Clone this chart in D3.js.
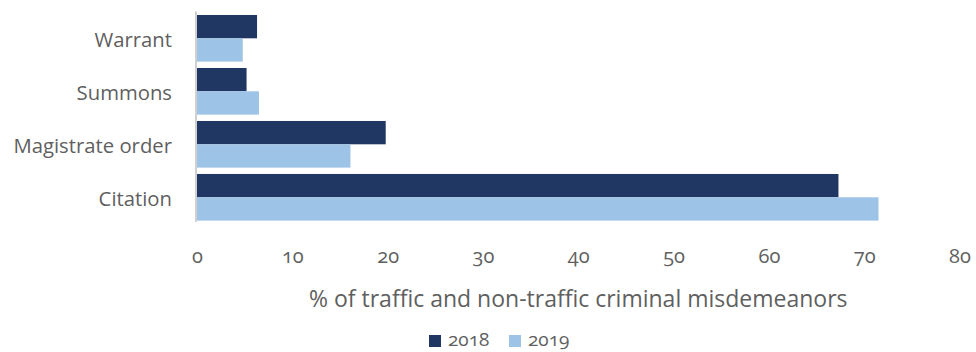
<!DOCTYPE html>
<html>
<head>
<meta charset="utf-8">
<script src="https://cdn.jsdelivr.net/npm/d3@7"></script>
<style>
  html, body { margin: 0; padding: 0; background: #ffffff; }
  svg { display: block; }
  text { font-family: "Open Sans", "Lato", sans-serif; font-weight: 400; fill: #5f5f5f; }
  .num { font-variant-numeric: oldstyle-nums; font-feature-settings: "onum" 1; }
</style>
</head>
<body>
<svg id="chart" width="976" height="352"></svg>
<script>
// Share of traffic and non-traffic criminal misdemeanors by process type
const categories = ["Warrant", "Summons", "Magistrate order", "Citation"];
const years = ["2018", "2019"];
const values2018 = [6.3, 5.2, 19.8, 67.3];
const values2019 = [4.8, 6.5, 16.1, 71.5];
const xTicks = [0, 10, 20, 30, 40, 50, 60, 70, 80];
const colors = ["#213763", "#9dc3e6"];

const svg = d3.select("#chart");

const x = d3.scaleLinear().domain([0, 80]).range([197, 959.5]);
const y = d3.scaleBand().domain(categories).range([11.8, 223.8]).paddingInner(0.12).paddingOuter(0.06);
const ySub = d3.scaleBand().domain(years).range([0, y.bandwidth()]);

const rows = categories.map((c, i) => ({ category: c, values: [values2018[i], values2019[i]] }));

// bars
const groups = svg.append("g").selectAll("g")
  .data(rows).join("g")
  .attr("transform", d => `translate(0,${y(d.category)})`);

groups.selectAll("rect")
  .data(d => d.values.map((v, j) => ({ year: years[j], value: v, j })))
  .join("rect")
  .attr("x", x(0))
  .attr("y", d => ySub(d.year))
  .attr("width", d => x(d.value) - x(0))
  .attr("height", ySub.bandwidth())
  .attr("fill", d => colors[d.j]);

// vertical baseline
svg.append("line")
  .attr("x1", x(0) - 1).attr("x2", x(0) - 1)
  .attr("y1", 11.5).attr("y2", 222)
  .attr("stroke", "#d0d0d0").attr("stroke-width", 2);

// category labels
svg.append("g").selectAll("text")
  .data(categories).join("text")
  .attr("x", 172)
  .attr("y", d => y(d) + y.bandwidth() / 2 + 8.5)
  .attr("text-anchor", "end")
  .style("font-size", "20.3px")
  .text(d => d);

// x axis tick labels
const xAxis = d3.axisBottom(x).tickValues(xTicks).tickSize(0).tickPadding(0).tickFormat(d3.format("d"));
const gx = svg.append("g").attr("transform", "translate(0,263)").call(xAxis);
gx.select(".domain").remove();
gx.selectAll("text")
  .attr("class", "num")
  .attr("y", 0)
  .attr("dy", null)
  .style("font-size", "20px")
  .attr("fill", "#5f5f5f");

// axis title
svg.append("text")
  .attr("x", (x(0) + x(80)) / 2)
  .attr("y", 307)
  .attr("text-anchor", "middle")
  .style("font-size", "23px")
  .text("% of traffic and non-traffic criminal misdemeanors");

// legend
const legend = svg.append("g").attr("transform", "translate(429,335)");
const items = legend.selectAll("g").data(years).join("g")
  .attr("transform", (d, i) => `translate(${i * 80},0)`);
items.append("rect").attr("width", 12).attr("height", 12)
  .attr("fill", (d, i) => colors[i]);
items.append("text")
  .attr("class", "num")
  .attr("x", 19).attr("y", 11)
  .style("font-size", "19px")
  .text(d => d);
</script>
</body>
</html>
